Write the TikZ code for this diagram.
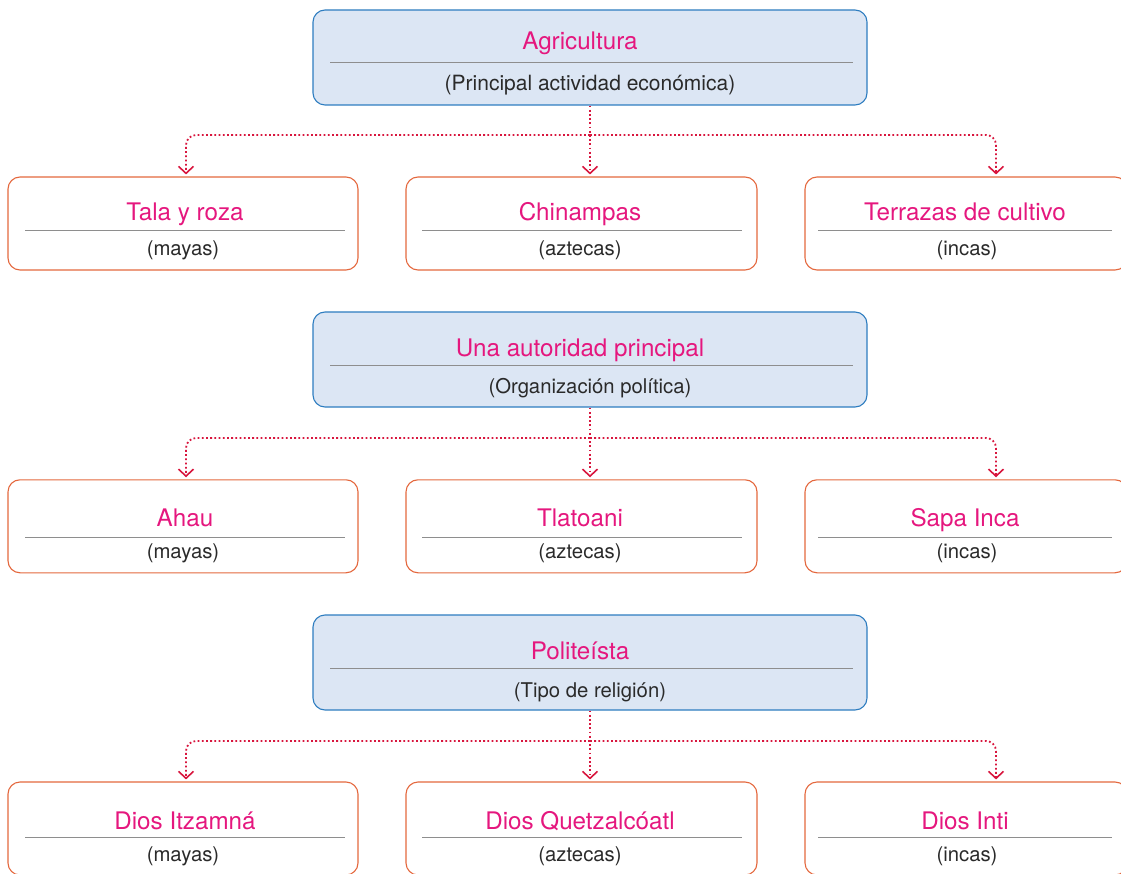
\documentclass[tikz,border=0pt]{standalone}
\usepackage{fontspec}
\setmainfont{TeX Gyre Heros}
\usetikzlibrary{arrows.meta}
\definecolor{pinkt}{HTML}{E5177E}
\definecolor{subt}{HTML}{2A2A2A}
\definecolor{bfill}{HTML}{DCE6F4}
\definecolor{bdraw}{HTML}{2E7DC0}
\definecolor{odraw}{HTML}{E4683E}
\definecolor{dotc}{HTML}{D8163E}
\definecolor{sepc}{HTML}{8E8E8E}
\begin{document}
\begin{tikzpicture}[x=1pt,y=-1pt,
 topbox/.style={draw=bdraw, fill=bfill, line width=1.1pt, rounded corners=12pt, minimum width=554pt, minimum height=95pt, inner sep=0pt},
 childbox/.style={draw=odraw, line width=1.1pt, rounded corners=12pt, minimum height=93pt, inner sep=0pt},
 ttl/.style={text=pinkt, font=\fontsize{24.2}{27}\selectfont, anchor=base, inner sep=0pt},
 subtxt/.style={text=subt, font=\fontsize{20.3}{23}\selectfont, anchor=base, inner sep=0pt},
 sepline/.style={draw=sepc, line width=1pt},
 conn/.style={draw=dotc, line width=1.8pt, dash pattern=on 1.8pt off 2.4pt, rounded corners=10pt,
   -{Straight Barb[length=7pt,width=15pt,line width=1.6pt]}, shorten >=2pt}]
\useasboundingbox (0,0) rectangle (1121,874);
\clip (0,0) rectangle (1121,874);

% ---------- Row 1 ----------
\node[topbox] (T1) at (590,57.5) {};
\node[ttl] (T1t) at (580,50) {Agricultura};
\draw[sepline] (330,62.3) -- (853,62.3);
\node[subtxt, font=\fontsize{21}{24}\selectfont] (T1s) at (590,90.5) {(Principal actividad económica)};

\node[childbox, minimum width=350pt] (L1) at (183,223.5) {};
\node[childbox, minimum width=351pt] (M1) at (581.5,223.5) {};
\node[childbox, minimum width=322pt] (R1) at (966,223.5) {};
\node[ttl] at (185,221) {Tala y roza};
\node[ttl] at (580,221) {Chinampas};
\node[ttl] at (965,221) {Terrazas de cultivo};
\draw[sepline] (25,231) -- (345,231);
\draw[sepline] (422,231) -- (742,231);
\draw[sepline] (818,231) -- (1112,231);
\node[subtxt] at (183,255.5) {(mayas)};
\node[subtxt] at (580,255.5) {(aztecas)};
\node[subtxt] at (967,255.5) {(incas)};

\coordinate (H1) at (590,135);
\draw[conn] (T1.south) -- (T1.south |- M1.north);
\draw[conn] (H1) -| ([xshift=3pt]L1.north);
\draw[conn] (H1) -| ([xshift=30pt]R1.north);

% ---------- Row 2 ----------
\node[topbox] (T2) at (590,359.5) {};
\node[ttl] (T2t) at (580,356) {Una autoridad principal};
\draw[sepline] (330,365.3) -- (853,365.3);
\node[subtxt] (T2s) at (590,393.5) {(Organización política)};

\node[childbox, minimum width=350pt] (L2) at (183,526.3) {};
\node[childbox, minimum width=351pt] (M2) at (581.5,526.3) {};
\node[childbox, minimum width=322pt] (R2) at (966,526.3) {};
\node[ttl] at (185,526) {Ahau};
\node[ttl] at (580,526) {Tlatoani};
\node[ttl] at (965,526) {Sapa Inca};
\draw[sepline] (25,537.7) -- (345,537.7);
\draw[sepline] (422,537.7) -- (742,537.7);
\draw[sepline] (818,537.7) -- (1112,537.7);
\node[subtxt] at (183,558) {(mayas)};
\node[subtxt] at (580,558) {(aztecas)};
\node[subtxt] at (967,558) {(incas)};

\coordinate (H2) at (590,438);
\draw[conn] (T2.south) -- (T2.south |- M2.north);
\draw[conn] (H2) -| ([xshift=3pt]L2.north);
\draw[conn] (H2) -| ([xshift=30pt]R2.north);

% ---------- Row 3 ----------
\node[topbox] (T3) at (590,662.5) {};
\node[ttl] (T3t) at (580,659) {Politeísta};
\draw[sepline] (330,668.3) -- (853,668.3);
\node[subtxt] (T3s) at (590,697) {(Tipo de religión)};

\node[childbox, minimum width=350pt] (L3) at (183,828.5) {};
\node[childbox, minimum width=351pt] (M3) at (581.5,828.5) {};
\node[childbox, minimum width=322pt] (R3) at (966,828.5) {};
\node[ttl] at (185,829) {Dios Itzamná};
\node[ttl] at (580,829) {Dios Quetzalcóatl};
\node[ttl] at (965,829) {Dios Inti};
\draw[sepline] (25,837.3) -- (345,837.3);
\draw[sepline] (422,837.3) -- (742,837.3);
\draw[sepline] (818,837.3) -- (1112,837.3);
\node[subtxt] at (183,861.5) {(mayas)};
\node[subtxt] at (580,861.5) {(aztecas)};
\node[subtxt] at (967,861.5) {(incas)};

\coordinate (H3) at (590,741);
\draw[conn] (T3.south) -- (T3.south |- M3.north);
\draw[conn] (H3) -| ([xshift=3pt]L3.north);
\draw[conn] (H3) -| ([xshift=30pt]R3.north);
\end{tikzpicture}
\end{document}
